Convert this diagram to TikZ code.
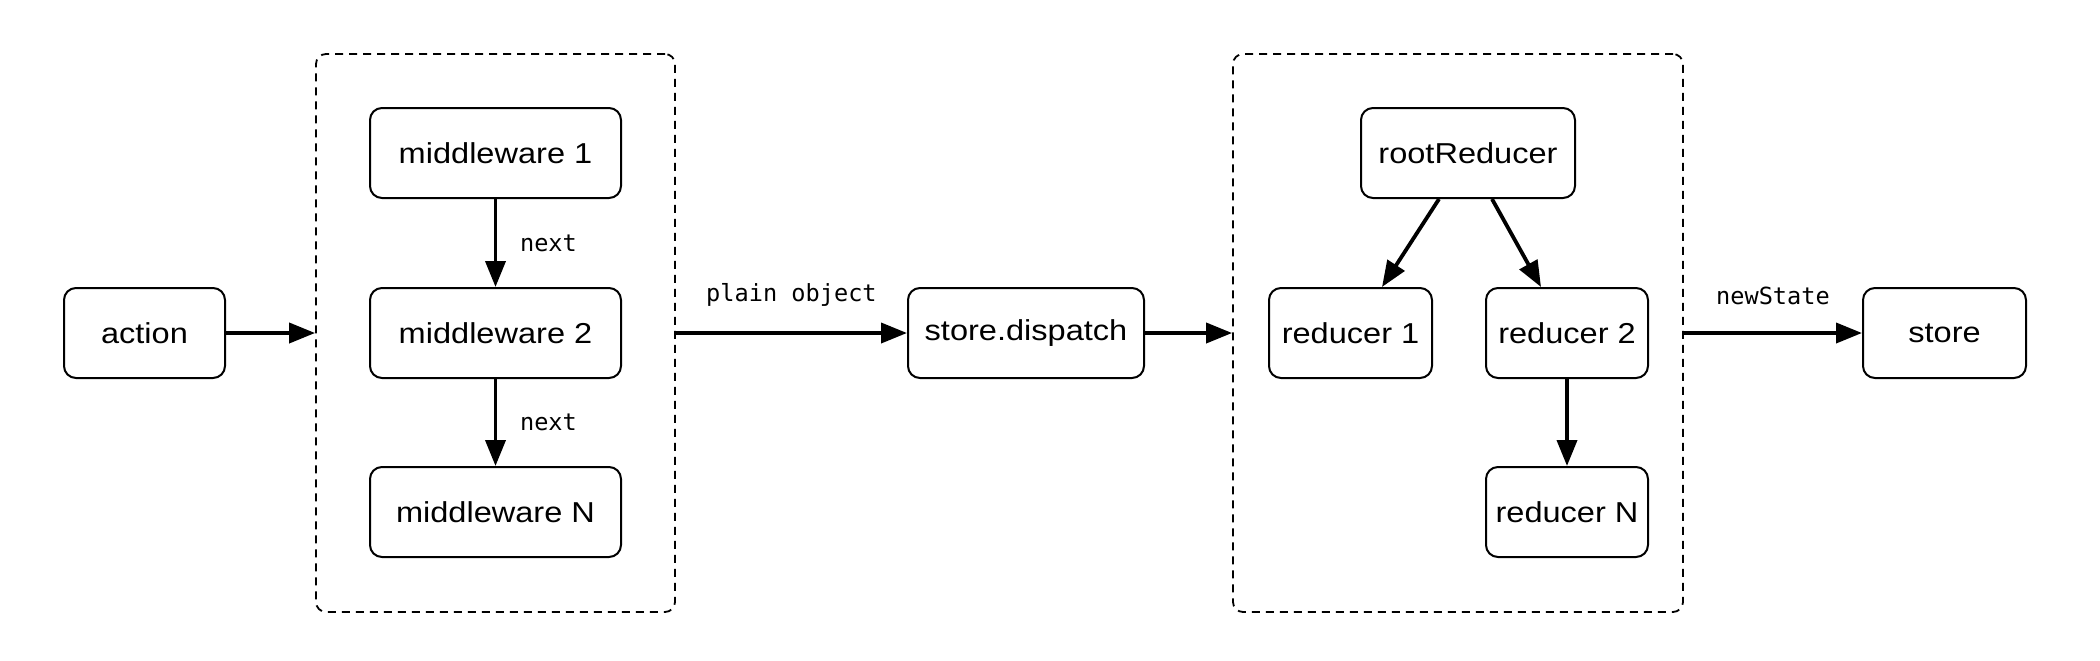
\documentclass[tikz,border=0pt]{standalone}
\usepackage{fontspec}
\setmainfont{Liberation Sans}[FakeStretch=1.13]
\newfontfamily\codefont{DejaVu Sans Mono}
\usetikzlibrary{arrows.meta}

\begin{document}
\begin{tikzpicture}[x=0.5pt,y=-0.5pt]
\tikzstyle{every node}=[font=\fontsize{14.4}{17}\selectfont]
\tikzstyle{box}=[draw,fill=white,line width=1pt,rounded corners=6pt,minimum height=45pt,inner sep=0pt]
\tikzstyle{group}=[draw,dash pattern=on 4pt off 3pt,line width=0.9pt,rounded corners=5pt,minimum height=279pt]
\tikzstyle{flow}=[line width=1.9pt,-{Triangle[length=13pt,width=10pt]}]
\tikzstyle{tag}=[font=\codefont\fontsize{11.8}{14}\selectfont]
\useasboundingbox (0,0) rectangle (2100,660);
% dashed groups
\node[group,minimum width=179.5pt] (mwgroup) at (495.5,333) {};
\node[group,minimum width=225pt] (redgroup) at (1458,333) {};
% boxes
\node[box,minimum width=80.5pt] (action) at (144.5,333) {action};
\node[box,minimum width=125.5pt] (mw1) at (495.5,153) {middleware 1};
\node[box,minimum width=125.5pt] (mw2) at (495.5,333) {middleware 2};
\node[box,minimum width=125.5pt] (mwN) at (495.5,512) {middleware N};
\node[box,minimum width=118pt] (dispatch) at (1026,333) {store.dispatch};
\node[box,minimum width=107pt] (root) at (1468,153) {rootReducer};
\node[box,minimum width=81.5pt] (red1) at (1350.5,333) {reducer 1};
\node[box,minimum width=81pt] (red2) at (1567,333) {reducer 2};
\node[box,minimum width=81pt] (redN) at (1567,512) {reducer N};
\node[box,minimum width=81.5pt] (store) at (1944.5,333) {store};
% arrows
\draw[flow] (action) -- (mwgroup);
\draw[flow] (mw1) -- node[tag,right=8pt] {next} (mw2);
\draw[flow] (mw2) -- node[tag,right=8pt] {next} (mwN);
\draw[flow] (mwgroup) -- node[tag,above=9pt] {plain object} (dispatch);
\draw[flow] (dispatch) -- (redgroup);
\draw[flow] ([xshift=-14.5pt]root.south) -- ([xshift=15.75pt]red1.north);
\draw[flow] ([xshift=12pt]root.south) -- ([xshift=-13pt]red2.north);
\draw[flow] (red2) -- (redN);
\draw[flow] (redgroup) -- node[tag,above=10pt] {newState} (store);
\end{tikzpicture}
\end{document}
